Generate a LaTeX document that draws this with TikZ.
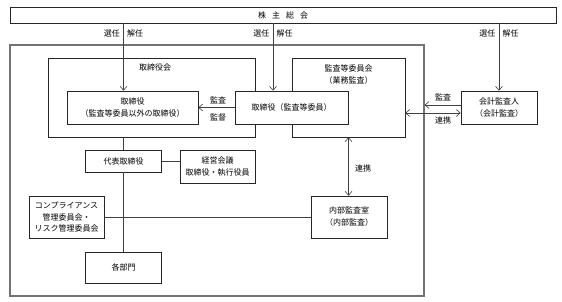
\documentclass[tikz,border=0pt]{standalone}
\usepackage{fontspec}
\setmainfont{Noto Sans CJK JP}
\usetikzlibrary{arrows.meta}

\begin{document}
\begin{tikzpicture}[x=1pt,y=-1pt,font=\fontsize{8}{12}\selectfont,
  bx/.style n args={2}{draw=black!85,line width=0.6pt,fill=white,minimum width=#1pt,minimum height=#2pt,inner sep=0pt,align=center},
  lbl/.style={inner sep=0pt,align=center},
  ln/.style={draw=black!75,line width=0.6pt},
  arr/.style={ln,-{Straight Barb[length=4pt,width=7pt]}},
  darr/.style={ln,{Straight Barb[length=4pt,width=7pt]}-{Straight Barb[length=4pt,width=7pt]}}]
\useasboundingbox (0,0) rectangle (562,301);
\node[bx={546}{16}] (soukai) at (283,15) {株\hspace{6pt}主\hspace{6pt}総\hspace{6pt}会};
\node[bx={414}{251},draw=black!55,line width=1.2pt,fill=none] (kaisha) at (217,170.5) {};
\node[bx={207}{79}] (torikai) at (151.5,97.5) {};
\node[lbl] (torikailbl) at (155,67) {取締役会};
\node[bx={131}{33}] (tori) at (132.5,107.5) {取締役\\（監査等委員以外の取締役）};
\node[bx={113}{79}] (kansaiinkai) at (348.5,97.5) {};
\node[lbl] (kansaiinkailbl) at (348.5,74.5) {監査等委員会\\（業務監査）};
\node[bx={113}{33}] (torikan) at (291.5,107.5) {取締役（監査等委員）};
\node[bx={76}{33}] (kaikei) at (499,107.5) {会計監査人\\（会計監査）};
\node[bx={76}{22}] (daihyo) at (123.5,161) {代表取締役};
\node[bx={75}{33}] (keiei) at (217.5,166.5) {経営会議\\取締役・執行役員};
\node[bx={75}{42}] (compl) at (66.5,217) {コンプライアンス\\管理委員会・\\リスク管理委員会};
\node[bx={76}{42}] (naibu) at (349,217) {内部監査室\\（内部監査）};
\node[bx={76}{31}] (bumon) at (123.5,267.5) {各部門};
\foreach \x/\n/\b in %
{123.5/a/tori,273/b/torikan,499/c/kaikei} {
   \coordinate (x\n) at (\x,0);
   \node[lbl,anchor=east] (sennin\n) at (\x-3.5,33) {選任};
   \node[lbl,anchor=west] (kainin\n) at (\x+3.5,33) {解任};
   \draw[arr] (x\n |- soukai.south) -- (x\n |- \b.north);
}
\draw[arr] (torikan.west) -- (tori.east);
\node[lbl] (kansalbl) at (218,100) {監査};
\node[lbl] (kantokulbl) at (218,117) {監督};
\coordinate (kup) at ([yshift=2.5pt]kaikei.west);
\coordinate (kdn) at ([yshift=-5.5pt]kaikei.west);
\draw[arr] (kup) -- (kup -| kaisha.east);
\draw[darr] (kdn -| kansaiinkai.east) -- (kdn);
\node[lbl] (kaikeikansa) at (443,97) {監査};
\node[lbl] (kaikeirenkei) at (443,120) {連携};
\draw[darr] (kansaiinkai.south) -- (kansaiinkai.south |- naibu.north);
\node[lbl] (naiburenkei) at (363,168) {連携};
\draw[ln] (torikai.south -| daihyo.north) -- (daihyo.north);
\draw[ln] (daihyo.south) -- (bumon.north);
\draw[ln] (daihyo.east) -- (daihyo.east -| keiei.west);
\draw[ln] (compl.east) -- (naibu.west);
\end{tikzpicture}
\end{document}
